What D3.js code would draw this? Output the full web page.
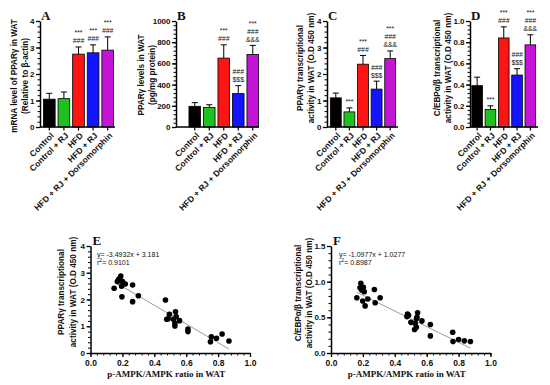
<!DOCTYPE html>
<html>
<head>
<meta charset="utf-8">
<script src="https://cdn.jsdelivr.net/npm/d3@7"></script>
<style>
  body { margin: 0; background: #fff; }
  text { font-family: "Liberation Sans", Arial, sans-serif; fill: #111; }
  .letter { font-family: "Liberation Serif", "Times New Roman", serif; font-weight: bold; font-size: 13px; }
  .xtitle { font-family: "Liberation Serif", "Times New Roman", serif; font-weight: bold; font-size: 9px; }
</style>
</head>
<body>
<div id="chart-area"></div>
<script>

// groups for bar panels
var groups = ["Control", "Control + RJ", "HFD", "HFD + RJ", "HFD + RJ + Dorsomorphin"];

// A - mRNA PPARg
var mrnaMean = [1.05, 1.07, 2.75, 2.8, 2.9];
var mrnaErr = [0.22, 0.25, 0.27, 0.3, 0.5];
var mrnaMarks = [[], [], ["***", "###"], ["***", "###"], ["***", "###"]];

// B - PPARg protein
var proteinMean = [195, 185, 650, 315, 685];
var proteinErr = [35, 25, 125, 75, 85];
var proteinMarks = [[], [], ["***", "###"], ["###", "$$$"], ["***", "###", "&&&"]];

// C - PPARg transcriptional activity
var pparMean = [1.1, 0.57, 2.37, 1.43, 2.58];
var pparErr = [0.18, 0.15, 0.33, 0.3, 0.29];
var pparMarks = [[], ["***"], ["***", "###"], ["###", "$$$"], ["***", "###", "&&&"]];

// D - C/EBP activity
var cebpMean = [0.39, 0.165, 0.84, 0.49, 0.775];
var cebpErr = [0.08, 0.035, 0.105, 0.06, 0.095];
var cebpMarks = [[], ["***"], ["***", "###"], ["###", "$$$"], ["***", "###", "&&&"]];

// E - scatter p-AMPK vs PPARg
var eX = [0.148, 0.169, 0.176, 0.19, 0.184, 0.201, 0.218, 0.195, 0.264, 0.197, 0.264, 0.30,
          0.47, 0.495, 0.478, 0.487, 0.533, 0.537, 0.52, 0.529, 0.529, 0.558, 0.611, 0.611,
          0.758, 0.752, 0.79, 0.825, 0.868];
var eY = [2.42, 2.67, 2.75, 2.88, 2.79, 2.67, 2.58, 2.50, 2.54, 2.10, 1.92, 2.14,
          1.98, 1.45, 1.26, 1.28, 1.54, 1.36, 1.26, 1.11, 1.01, 1.21, 0.90, 0.80,
          0.61, 0.42, 0.55, 0.71, 0.45];
var eFit = {slope: -3.4932, intercept: 3.181, r2: "0.9101"};

// F - scatter p-AMPK vs C/EBP
var fX = [0.162, 0.187, 0.182, 0.203, 0.193, 0.208, 0.199, 0.214, 0.231, 0.272, 0.277, 0.308,
          0.48, 0.486, 0.476, 0.501, 0.543, 0.539, 0.536, 0.528, 0.535, 0.524, 0.570, 0.623, 0.623,
          0.763, 0.765, 0.80, 0.836, 0.874];
var fY = [0.775, 0.977, 0.915, 0.92, 0.88, 0.86, 0.73, 0.66, 0.757, 0.89, 0.705, 0.775,
          0.547, 0.53, 0.51, 0.43, 0.565, 0.50, 0.48, 0.415, 0.36, 0.33, 0.45, 0.40, 0.24,
          0.29, 0.16, 0.19, 0.17, 0.16];
var fFit = {slope: -1.0977, intercept: 1.0277, r2: "0.8987"};

var barColors = ["#000000", "#1ec21e", "#ff1414", "#1414ff", "#c414d6"];
var markColors = {"***": "#111", "###": "#808080", "$$$": "#333", "&&&": "#222"};

var svg = d3.select("#chart-area")
  .append("svg")
    .attr("width", 550)
    .attr("height", 385);

svg.append("rect").attr("width", 550).attr("height", 385).attr("fill", "#fff");

function range(a, b, step) {
  var out = [];
  for (var v = a; v <= b + step / 1000; v += step) out.push(+v.toFixed(6));
  return out;
}

// y axis with minor ticks (prism style)
function yAxis(g, y, x0, major, minor, fmt) {
  var d = y.domain();
  g.append("g")
    .attr("transform", "translate(" + x0 + ",0)")
    .call(d3.axisLeft(y).tickValues(range(d[0], d[1], minor)).tickSize(2.5).tickFormat(""))
    .call(function(s){ s.select(".domain").remove(); s.selectAll("line").attr("stroke-width", 1); });
  g.append("g")
    .attr("transform", "translate(" + x0 + ",0)")
    .call(d3.axisLeft(y).tickValues(range(d[0], d[1], major)).tickSize(4).tickSizeOuter(0).tickPadding(1.5).tickFormat(fmt))
    .call(function(s){
      s.select(".domain").attr("stroke-width", 1.5);
      s.selectAll("line").attr("stroke-width", 1.3);
      s.selectAll("text").attr("font-size", "8px").attr("font-weight", "bold")
        .attr("font-family", "Liberation Sans, Arial, sans-serif");
    });
}

function yTitle(lines, xs, cy) {
  lines.forEach(function(t, i){
    svg.append("text")
      .attr("transform", "translate(" + xs[i] + "," + cy + ") rotate(-90)")
      .attr("text-anchor", "middle")
      .attr("dominant-baseline", "central")
      .attr("font-size", "8.2px")
      .attr("font-weight", "bold")
      .text(t);
  });
}

// bar panels
var barPanels = [
  {letter: "A", mean: mrnaMean, err: mrnaErr, marks: mrnaMarks, max: 4, major: 1, minor: 0.2, fmt: d3.format("d"),
   axisX: 40, band: [42, 115], axisEnd: 115, title: ["mRNA level of PPARγ in WAT", "(Relative to β-actin)"], tx: [14, 25], ty: 76},
  {letter: "B", mean: proteinMean, err: proteinErr, marks: proteinMarks, max: 1000, major: 200, minor: 40, fmt: d3.format("d"),
   axisX: 176, band: [187.5, 260], axisEnd: 259, title: ["PPARγ levels in  WAT", "(pg/mg protein)"], tx: [141, 152], ty: 75},
  {letter: "C", mean: pparMean, err: pparErr, marks: pparMarks, max: 4, major: 1, minor: 0.2, fmt: d3.format("d"),
   axisX: 327, band: [329, 397], axisEnd: 398, title: ["PPARγ transcriptional", "activity  in  WAT (O.D 450 nm)"], tx: [300, 311.5], ty: 68},
  {letter: "D", mean: cebpMean, err: cebpErr, marks: cebpMarks, max: 1, major: 0.2, minor: 0.04, fmt: d3.format(".1f"),
   axisX: 470, band: [470.5, 537], axisEnd: 538, title: ["C/EBPα/β transcriptional", "activity in WAT (O.D 450 nm)"], tx: [437, 448], ty: 68}
];

var barTop = 21, barBottom = 127;

barPanels.forEach(function(p){
  var g = svg.append("g");
  var y = d3.scaleLinear().domain([0, p.max]).range([barBottom, barTop]);
  var x = d3.scaleBand().domain(groups).range(p.band).paddingInner(0.2).paddingOuter(0.1);

  // error bars (upper only)
  groups.forEach(function(name, i){
    var cx = x(name) + x.bandwidth() / 2;
    var top = y(p.mean[i] + p.err[i]);
    g.append("line").attr("x1", cx).attr("x2", cx).attr("y1", y(p.mean[i])).attr("y2", top)
      .attr("stroke", "#000").attr("stroke-width", 1);
    g.append("line").attr("x1", cx - 3).attr("x2", cx + 3).attr("y1", top).attr("y2", top)
      .attr("stroke", "#000").attr("stroke-width", 1);
  });

  g.selectAll("rect.bar")
    .data(p.mean)
    .enter()
    .append("rect")
      .attr("class", "bar")
      .attr("x", function(d, i){ return x(groups[i]); })
      .attr("y", function(d){ return y(d); })
      .attr("width", x.bandwidth())
      .attr("height", function(d){ return y(0) - y(d); })
      .attr("fill", function(d, i){ return barColors[i]; })
      .attr("stroke", "#000")
      .attr("stroke-width", 0.8);

  // significance marks stacked above error bar
  groups.forEach(function(name, i){
    var cx = x(name) + x.bandwidth() / 2;
    var top = y(p.mean[i] + p.err[i]);
    var n = p.marks[i].length;
    p.marks[i].forEach(function(m, j){
      g.append("text")
        .attr("x", cx)
        .attr("y", top - 3.5 - (n - 1 - j) * 8)
        .attr("text-anchor", "middle")
        .attr("font-size", "6.8px")
        .attr("font-style", m === "###" ? "italic" : "normal")
        .attr("fill", markColors[m])
        .text(m);
    });
  });

  yAxis(g, y, p.axisX, p.major, p.minor, p.fmt);

  // x axis
  g.append("line").attr("x1", p.axisX).attr("x2", p.axisEnd).attr("y1", barBottom).attr("y2", barBottom)
    .attr("stroke", "#000").attr("stroke-width", 1.5);
  groups.forEach(function(name){
    var cx = x(name) + x.bandwidth() / 2;
    g.append("line").attr("x1", cx).attr("x2", cx).attr("y1", barBottom).attr("y2", barBottom + 3.5)
      .attr("stroke", "#000").attr("stroke-width", 1.2);
    g.append("text")
      .attr("transform", "translate(" + (cx + 3) + "," + (barBottom + 7) + ") rotate(-45)")
      .attr("text-anchor", "end")
      .attr("dy", "0.35em")
      .attr("font-size", "8.5px")
      .attr("font-weight", "bold")
      .text(name);
  });

  svg.append("text").attr("class", "letter").attr("x", p.axisX + 1).attr("y", 20).text(p.letter);
  yTitle(p.title, p.tx, p.ty);
});

// scatter panels
var scatterPanels = [
  {letter: "E", xs: eX, ys: eY, fit: eFit, max: 4, major: 1, minor: 0.2, fmt: d3.format("d"),
   x0: 90.5, x1: 250, title: ["PPARγ transcriptional", "activity in WAT (O.D 450 nm)"], tx: [61.5, 73.5], ty: 292, eqX: 97},
  {letter: "F", xs: fX, ys: fY, fit: fFit, max: 1.5, major: 0.5, minor: 0.1, fmt: d3.format(".1f"),
   x0: 331, x1: 490.5, title: ["C/EBPα/β transcriptional", "activity in WAT (O.D 450 nm)"], tx: [298, 309.5], ty: 293, eqX: 339}
];

var scTop = 246, scBottom = 353;

scatterPanels.forEach(function(p){
  var g = svg.append("g");
  var x = d3.scaleLinear().domain([0, 1]).range([p.x0, p.x1]);
  var y = d3.scaleLinear().domain([0, p.max]).range([scBottom, scTop]);

  // fit line
  var lo = d3.min(p.xs), hi = d3.max(p.xs);
  g.append("line")
    .attr("x1", x(lo)).attr("y1", y(p.fit.slope * lo + p.fit.intercept))
    .attr("x2", x(hi)).attr("y2", y(p.fit.slope * hi + p.fit.intercept))
    .attr("stroke", "#9a9a9a").attr("stroke-width", 1);

  g.selectAll("circle")
    .data(p.xs)
    .enter()
    .append("circle")
      .attr("cx", function(d){ return x(d); })
      .attr("cy", function(d, i){ return y(p.ys[i]); })
      .attr("r", 2.8)
      .attr("fill", "#000");

  yAxis(g, y, p.x0, p.major, p.minor, p.fmt);

  // x axis
  g.append("g")
    .attr("transform", "translate(0," + scBottom + ")")
    .call(d3.axisBottom(x).tickValues(range(0, 1, 0.04)).tickSize(2.5).tickFormat(""))
    .call(function(s){ s.select(".domain").remove(); s.selectAll("line").attr("stroke-width", 1); });
  g.append("g")
    .attr("transform", "translate(0," + scBottom + ")")
    .call(d3.axisBottom(x).tickValues(range(0, 1, 0.2)).tickSize(4).tickSizeOuter(0).tickPadding(3).tickFormat(d3.format(".1f")))
    .call(function(s){
      s.select(".domain").attr("stroke-width", 1.5);
      s.selectAll("line").attr("stroke-width", 1.3);
      s.selectAll("text").attr("font-size", "8.5px").attr("font-weight", "bold")
        .attr("font-family", "Liberation Sans, Arial, sans-serif");
    });

  svg.append("text").attr("class", "xtitle")
    .attr("x", (p.x0 + p.x1) / 2 - 4).attr("y", 377)
    .attr("text-anchor", "middle")
    .text("p-AMPK/AMPK ratio in  WAT");

  svg.append("text").attr("class", "letter").attr("x", p.x0 + 2).attr("y", 245).text(p.letter);

  svg.append("text")
    .attr("x", p.eqX).attr("y", 257)
    .attr("font-size", "7px").attr("fill", "#333")
    .text("y= " + p.fit.slope + "x + " + p.fit.intercept);
  var r = svg.append("text")
    .attr("x", p.eqX).attr("y", 265)
    .attr("font-size", "7px").attr("fill", "#333");
  r.append("tspan").text("r");
  r.append("tspan").attr("dy", "-3").attr("font-size", "5px").text("2");
  r.append("tspan").attr("dy", "3").text("= " + p.fit.r2);

  yTitle(p.title, p.tx, p.ty);
});

</script>
</body>
</html>
